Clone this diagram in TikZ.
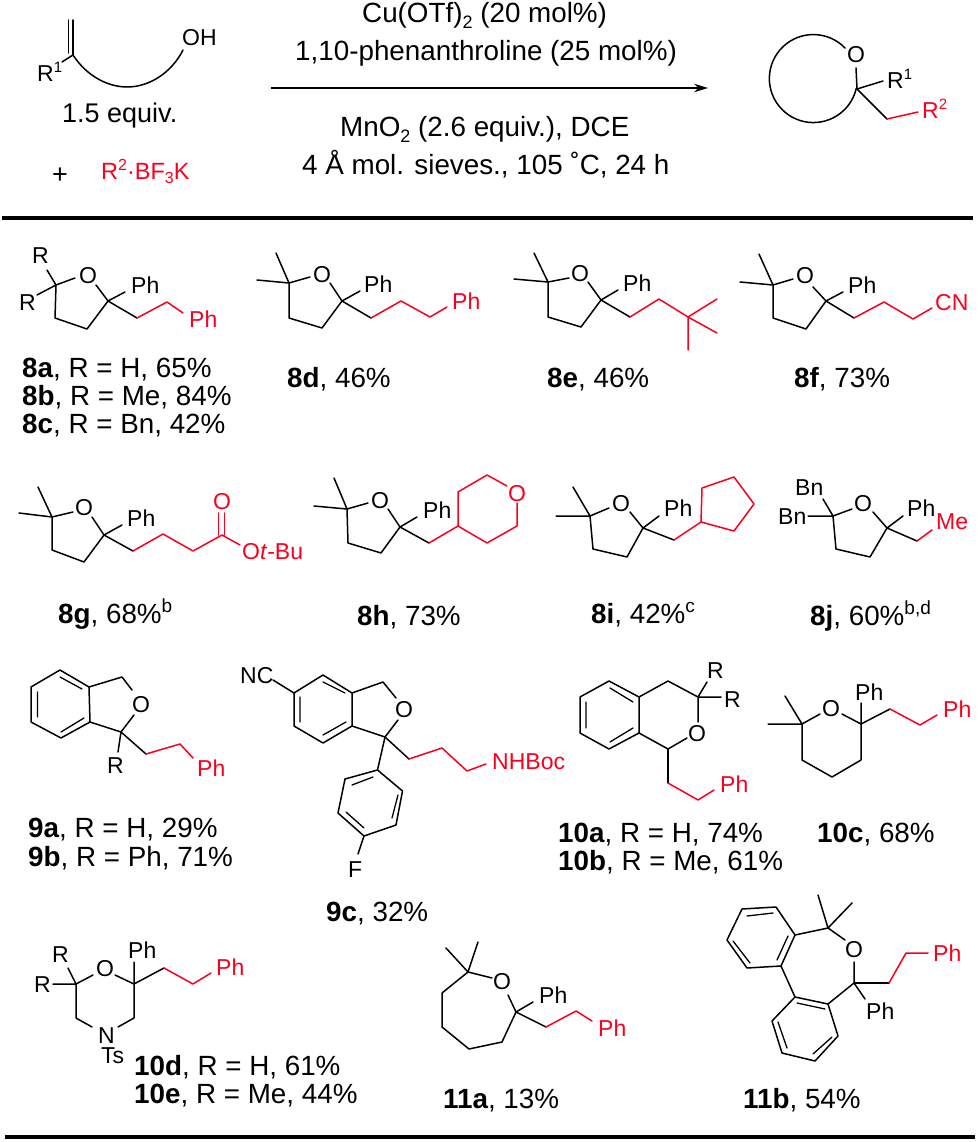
\documentclass[tikz,border=0pt]{standalone}
\usepackage{fontspec}
\setmainfont{Liberation Sans}
\usetikzlibrary{arrows.meta}
\definecolor{chemred}{RGB}{250,0,30}
\newcommand{\supa}[1]{\raisebox{9pt}{\fontsize{15}{15}\selectfont #1}}
\newcommand{\supl}[1]{\raisebox{11pt}{\fontsize{19}{19}\selectfont #1}}
\newcommand{\subl}[1]{\raisebox{-6pt}{\fontsize{18}{18}\selectfont #1}}
\newcommand{\supr}[1]{\raisebox{9pt}{\fontsize{16}{16}\selectfont #1}}
\newcommand{\subr}[1]{\raisebox{-5pt}{\fontsize{16}{16}\selectfont #1}}
\tikzset{
  x=1pt,y=-1pt,
  bond/.style={line width=1.5pt,line join=round,line cap=round,black},
  rbond/.style={bond,chemred},
  inner/.style={line width=1.3pt,line cap=round,black},
  atw/.style={anchor=base west,inner sep=0pt,font=\fontsize{23}{27}\selectfont},
  atc/.style={anchor=base,inner sep=0pt,font=\fontsize{23}{27}\selectfont},
  lab/.style={anchor=base west,inner sep=0pt,font=\fontsize{27.8}{32}\selectfont},
  rule/.style={line width=4.8pt,black},
}
\begin{document}
\begin{tikzpicture}
\useasboundingbox (0,0) rectangle (978,1142);
% ---------- reaction header
\draw[bond] (68.5,20) -- (68.5,53) (73,20) -- (73,55);
\draw[bond] (62,62) -- (73,55);
\draw[bond] (73,55) .. controls (88,78) and (110,87) .. (127,87) .. controls (150,87) and (172,72) .. (183,50);
\node[atw] (sR1) at (37,82) {R\supa{1}};
\node[atw] (sOH) at (182,46) {OH};
\node[lab,font=\fontsize{27}{32}\selectfont] (eq) at (62,123) {1.5 equiv.};
\node[lab,font=\fontsize{27}{32}\selectfont] (plus) at (52,184) {+};
\node[lab,chemred,font=\fontsize{23.5}{28}\selectfont] (bf3k) at (101,179) {R\supr{2}·BF\subr{3}K};
\node[lab] (c1) at (362,23) {Cu(OTf)\subl{2} (20 mol\%)};
\node[lab] (c2) at (295,61) {1,10-phenanthroline (25 mol\%)};
\node[lab] (c3) at (340,137) {MnO\subl{2} (2.6 equiv.), DCE};
\node[lab] (c4) at (302,175) {4 Å mol. sieves., 105 ˚C, 24 h};
\coordinate (arS) at (271,88); \coordinate (arE) at (708,88);
\draw[line width=1.3pt,-{Stealth[length=14pt,width=8.5pt]}] (arS) -- (arE);
% product
\draw[bond] (845,48) arc[start angle=44,end angle=347,radius=44pt];
\node[atc] (pO) at (856,63) {O};
\draw[bond] (856,68) -- (857,89) -- (883,81);
\draw[bond] (857,89) -- (887,119);
\draw[rbond] (887,119) -- (918,112);
\node[atw] (pR1) at (887,89) {R\supa{1}};
\node[atw,chemred] (pR2) at (922,119) {R\supa{2}};
\coordinate (r1a) at (2,218); \coordinate (r1b) at (973,218);
\draw[rule] (r1a) -- (r1b);
% ---------- 8a-c
\draw[bond] (75,278) -- (56,285) -- (55,318) -- (87,329) -- (108,301) -- (96,285);
\draw[bond] (47,270) -- (56,285) -- (37,295);
\draw[bond] (125,292) -- (108,301) -- (137,318);
\draw[rbond] (137,318) -- (167,302) -- (183,313);
\node[atw] (aR1) at (32,263) {R};
\node[atw] (aR2) at (19,310) {R};
\node[atc] (aO) at (88,283) {O};
\node[atw] (aPh) at (131,293) {Ph};
\node[atw,chemred] (aPh2) at (189,327) {Ph};
\node[lab] (la) at (22,377) {\textbf{8a}, R = H, 65\%};
\node[lab] (lb) at (22,405) {\textbf{8b}, R = Me, 84\%};
\node[lab] (lc) at (22,433) {\textbf{8c}, R = Bn, 42\%};
% 8d
\draw[bond] (310,277) -- (289,283) -- (289,318) -- (322,328) -- (342,301) -- (330,283);
\draw[bond] (276,253) -- (289,283) -- (257,280);
\draw[bond] (360,291) -- (342,301) -- (371,318);
\draw[rbond] (371,318) -- (401,301) -- (430,317) -- (447,307);
\node[atc] (dO) at (322,282) {O};
\node[atw] (dPh) at (364,292) {Ph};
\node[atw,chemred] (dPh2) at (452,309) {Ph};
\node[lab] (ld) at (287,387) {\textbf{8d}, 46\%};
% 8e
\draw[bond] (569,278) -- (548,282) -- (548,317) -- (581,327) -- (601,300) -- (588,282);
\draw[bond] (534,253) -- (548,282) -- (514,279);
\draw[bond] (618,290) -- (601,300) -- (630,317);
\draw[rbond] (630,317) -- (659,299) -- (688,317) -- (717,299);
\draw[rbond] (717,333) -- (688,317) -- (688,350);
\node[atc] (eO) at (580,281) {O};
\node[atw] (ePh) at (623,291) {Ph};
\node[lab] (le) at (547,387) {\textbf{8e}, 46\%};
% 8f
\draw[bond] (793,279) -- (773,285) -- (773,318) -- (806,329) -- (826,301) -- (813,287);
\draw[bond] (759,254) -- (773,285) -- (740,282);
\draw[bond] (843,292) -- (826,301) -- (854,318);
\draw[rbond] (854,318) -- (884,302) -- (913,319) -- (932,308);
\node[atc] (fO) at (805,283) {O};
\node[atw] (fPh) at (848,293) {Ph};
\node[atw,chemred] (fCN) at (935,310) {CN};
\node[lab] (lf) at (794,387) {\textbf{8f}, 73\%};
% ---------- 8g
\draw[bond] (73,512) -- (52,517) -- (52,550) -- (84,562) -- (104,535) -- (92,517);
\draw[bond] (38,487) -- (52,517) -- (19,513);
\draw[bond] (122,525) -- (104,535) -- (133,551);
\draw[rbond] (133,551) -- (163,534) -- (193,551) -- (222,535) -- (240,545);
\draw[rbond] (218.5,535) -- (218.5,513) (224.5,535) -- (224.5,513);
\node[atc] (gO) at (84,515) {O};
\node[atw] (gPh) at (127,526) {Ph};
\node[atc,chemred] (gO2) at (222,509) {O};
\node[atw,chemred] (gOt) at (242,559) {O\textit{t}-Bu};
\node[lab] (lg) at (58,623) {\textbf{8g}, 68\%\supl{b}};
% 8h
\draw[bond] (368,503) -- (347,509) -- (348,543) -- (381,553) -- (400,527) -- (388,509);
\draw[bond] (334,478) -- (347,509) -- (314,506);
\draw[bond] (417,517) -- (400,527) -- (429,543);
\draw[rbond] (429,543) -- (458,526) -- (458,492) -- (487,475) -- (507,486);
\draw[rbond] (458,526) -- (487,543) -- (517,526) -- (517,503);
\node[atc] (hO) at (380,508) {O};
\node[atw] (hPh) at (423,518) {Ph};
\node[atc,chemred] (hO2) at (517,501) {O};
\node[lab] (lh) at (357,625) {\textbf{8h}, 73\%};
% 8i
\draw[bond] (609,508) -- (590,516) -- (593,549) -- (627,557) -- (643,528) -- (630,512);
\draw[bond] (573,487) -- (590,516) -- (556,516);
\draw[bond] (659,516) -- (643,528) -- (674,540);
\draw[rbond] (674,540) -- (701,522);
\draw[rbond] (701,522) -- (702,488) -- (734,477) -- (754,504) -- (734,531) -- cycle;
\node[atc] (iO) at (621,511) {O};
\node[atw] (iPh) at (664,516) {Ph};
\node[lab] (li) at (591,623) {\textbf{8i}, 42\%\supl{c}};
% 8j
\draw[bond] (852,509) -- (833,516) -- (836,549) -- (870,557) -- (887,528) -- (873,512);
\draw[bond] (823,499) -- (833,516) -- (808,516);
\draw[bond] (903,516) -- (887,528) -- (917,541);
\draw[rbond] (917,541) -- (932,530);
\node[atc] (jO) at (863,511) {O};
\node[atw] (jBn1) at (795,495) {Bn};
\node[atw] (jBn2) at (778,524) {Bn};
\node[atw] (jPh) at (907,516) {Ph};
\node[atw,chemred] (jMe) at (936,529) {Me};
\node[lab] (lj) at (810,625) {\textbf{8j}, 60\%\supl{b,d}};
% ---------- 9a/b
\draw[bond] (31,687) -- (31,722) -- (61,738) -- (90,722) -- (89,687) -- (60,670) -- cycle;
\draw[inner] (37.5,692) -- (37.5,717) (61,732) -- (84,718) (60,677) -- (82,689);
\draw[bond] (89,687) -- (122,677) -- (132,690);
\draw[bond] (134,715) -- (121,732) -- (90,722);
\draw[bond] (118,752) -- (121,732) -- (146,754);
\draw[rbond] (146,754) -- (180,744) -- (193,758);
\node[atc] (kO) at (141,712) {O};
\node[atw] (kR) at (107,773) {R};
\node[atw,chemred] (kPh) at (197,776) {Ph};
\node[lab] (l9a) at (28,837) {\textbf{9a}, R = H, 29\%};
\node[lab] (l9b) at (28,866) {\textbf{9b}, R = Ph, 71\%};
% 9c
\draw[bond] (294,693) -- (294,726) -- (323,743) -- (352,726) -- (352,693) -- (323,675) -- cycle;
\draw[inner] (300,697) -- (300,722) (323,735) -- (346,722) (323,682) -- (345,693);
\draw[bond] (273,680) -- (294,693);
\draw[bond] (352,693) -- (383,682) -- (396,698);
\draw[bond] (398,720) -- (385,737) -- (352,726);
\draw[bond] (385,737) -- (409,759);
\draw[rbond] (409,759) -- (442,748) -- (467,771) -- (486,764);
\draw[bond] (385,737) -- (377.5,770) -- (402.5,791) -- (396,825) -- (364,836) -- (338,813) -- (345,779) -- (377.5,770);
\draw[inner] (352,785) -- (373,777) (398,795) -- (392,818) (346,812) -- (364,828);
\draw[bond] (364,836) -- (358,854);
\node[atw] (mNC) at (240,683) {NC};
\node[atc] (mO) at (404,717) {O};
\node[atw,chemred] (mN) at (492,769) {NHBoc};
\node[atw] (mF) at (348,877) {F};
\node[lab] (l9c) at (326,921) {\textbf{9c}, 32\%};
% 10a/b
\draw[bond] (580,697) -- (580,733) -- (609,749) -- (639,733) -- (639,697) -- (609,681) -- cycle;
\draw[inner] (586,702) -- (586,728) (610,742) -- (633,728) (610,688) -- (633,702);
\draw[bond] (639,697) -- (668,681) -- (698,697) -- (698,722);
\draw[bond] (707,682) -- (698,697) -- (721,697);
\draw[bond] (687,738) -- (668,749) -- (639,733);
\draw[bond] (668,749) -- (668,783);
\draw[rbond] (668,783) -- (698,800) -- (714,790);
\node[atw] (nR1) at (707,678) {R};
\node[atw] (nR2) at (724,707) {R};
\node[atc] (nO) at (697,741) {O};
\node[atw,chemred] (nPh) at (720,792) {Ph};
\node[lab] (l10a) at (558,842) {\textbf{10a}, R = H, 74\%};
\node[lab] (l10b) at (558,870) {\textbf{10b}, R = Me, 61\%};
% 10c
\draw[bond] (820,714) -- (802,724) -- (802,760) -- (832,777) -- (861,760) -- (861,724) -- (842,714);
\draw[bond] (785,696) -- (802,724) -- (768,724);
\draw[bond] (861,703) -- (861,724) -- (890,709);
\draw[rbond] (890,709) -- (920,725) -- (937,715);
\node[atc] (oO) at (831,716) {O};
\node[atw] (oPh) at (855,700) {Ph};
\node[atw,chemred] (oPh2) at (943,717) {Ph};
\node[lab] (l10c) at (817,842) {\textbf{10c}, 68\%};
% ---------- 10d/e
\draw[bond] (93,975) -- (76,984) -- (76,1018) -- (92,1027);
\draw[bond] (118,1027) -- (134,1018) -- (134,984) -- (115,975);
\draw[bond] (68,968) -- (76,984) -- (53,984);
\draw[bond] (134,962) -- (134,984) -- (164,968);
\draw[rbond] (164,968) -- (193,984) -- (211,973);
\node[atw] (qR1) at (52,962) {R};
\node[atw] (qR2) at (34,992) {R};
\node[atc] (qO) at (105,976) {O};
\node[atw] (qN) at (98,1043) {N};
\node[atw] (qTs) at (101,1063) {Ts};
\node[atw] (qPh) at (128,958) {Ph};
\node[atw,chemred] (qPh2) at (216,975) {Ph};
\node[lab] (l10d) at (134,1075) {\textbf{10d}, R = H, 61\%};
\node[lab] (l10e) at (134,1103) {\textbf{10e}, R = Me, 44\%};
% 11a
\draw[bond] (492,978) -- (468,972) -- (442,993) -- (442,1027) -- (469,1049) -- (502,1042) -- (516,1012) -- (508,995);
\draw[bond] (446,948) -- (468,972) -- (478,942);
\draw[bond] (533,1002) -- (516,1012) -- (546,1027);
\draw[rbond] (546,1027) -- (576,1011) -- (592,1021);
\node[atc] (sO) at (502,989) {O};
\node[atw] (sPh) at (539,1003) {Ph};
\node[atw,chemred] (sPh2) at (598,1036) {Ph};
\node[lab] (l11a) at (443,1108) {\textbf{11a}, 13\%};
% 11b
\draw[bond] (742,909) -- (776,907) -- (795,935) -- (781,966) -- (747,968) -- (727,940) -- cycle;
\draw[inner] (747,916) -- (773,913) (788,936) -- (777,960) (733,941) -- (750,963);
\draw[bond] (795,935) -- (828,928) -- (845,940);
\draw[bond] (818,895) -- (828,928) -- (852,903);
\draw[bond] (854,962) -- (854,983) -- (828,1004);
\draw[bond] (781,966) -- (795,997);
\draw[bond] (795,997) -- (828,1004) -- (838,1036) -- (815,1061) -- (782,1053) -- (772,1021) -- cycle;
\draw[inner] (797,1003) -- (825,1009) (832,1037) -- (813,1054) (778,1022) -- (787,1048);
\draw[bond] (854,983) -- (865,999);
\draw[bond] (854,983) -- (889,983);
\draw[rbond] (889,983) -- (906,953) -- (928,953);
\node[atc] (tO) at (854,957) {O};
\node[atw] (tPh) at (866,1019) {Ph};
\node[atw,chemred] (tPh2) at (933,961) {Ph};
\node[lab] (l11b) at (743,1108) {\textbf{11b}, 54\%};
\coordinate (r2a) at (5,1137); \coordinate (r2b) at (975,1137);
\draw[rule] (r2a) -- (r2b);
\end{tikzpicture}
\end{document}
